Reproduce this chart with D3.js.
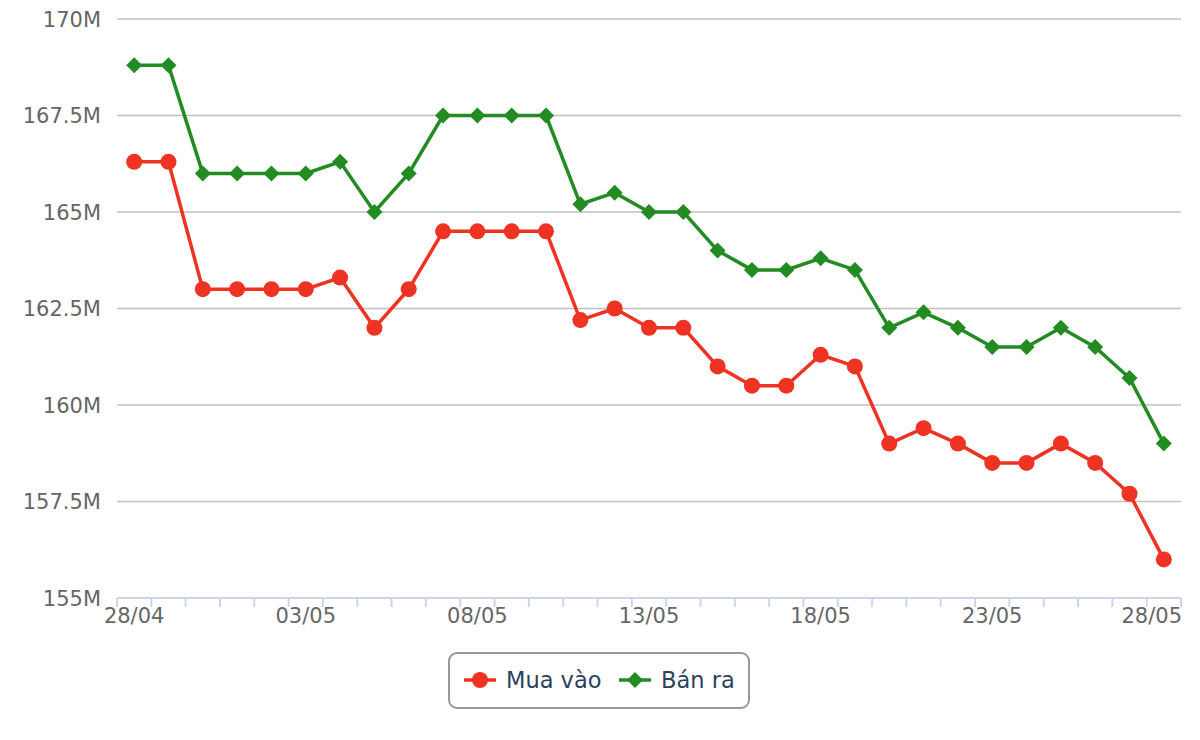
<!DOCTYPE html>
<html>
<head>
<meta charset="utf-8">
<script src="https://cdn.jsdelivr.net/npm/d3@7"></script>
<style>
  body { margin: 0; background: #fff; }
  svg { font-family: "DejaVu Sans", sans-serif; }
</style>
</head>
<body>
<svg id="chart" width="1200" height="740"></svg>
<script>
// dates on x axis
let dates = ["28/04","29/04","30/04","01/05","02/05","03/05","04/05","05/05","06/05","07/05",
  "08/05","09/05","10/05","11/05","12/05","13/05","14/05","15/05","16/05","17/05",
  "18/05","19/05","20/05","21/05","22/05","23/05","24/05","25/05","26/05","27/05","28/05"];
// buy price (millions)
let muaVao = [166.3,166.3,163.0,163.0,163.0,163.0,163.3,162.0,163.0,164.5,
  164.5,164.5,164.5,162.2,162.5,162.0,162.0,161.0,160.5,160.5,
  161.3,161.0,159.0,159.4,159.0,158.5,158.5,159.0,158.5,157.7,156.0];
// sell price (millions)
let banRa = [168.8,168.8,166.0,166.0,166.0,166.0,166.3,165.0,166.0,167.5,
  167.5,167.5,167.5,165.2,165.5,165.0,165.0,164.0,163.5,163.5,
  163.8,163.5,162.0,162.4,162.0,161.5,161.5,162.0,161.5,160.7,159.0];
let yTicks = [155,157.5,160,162.5,165,167.5,170];

let svg = d3.select("#chart");
let plotLeft = 117, plotRight = 1181, plotTop = 19, plotBottom = 598;

let xScale = d3.scaleBand().domain(dates).range([plotLeft, plotRight]);
let yScale = d3.scaleLinear().domain([155, 170]).range([plotBottom, plotTop]);
let cx = d => xScale(d) + xScale.bandwidth() / 2;

// grid lines
svg.append("g")
  .selectAll("line")
  .data(yTicks.slice(1))
  .enter()
  .append("line")
  .attr("x1", plotLeft).attr("x2", plotRight)
  .attr("y1", d => yScale(d)).attr("y2", d => yScale(d))
  .attr("stroke", "#c0c0c0").attr("stroke-width", 1.5);

// y labels
svg.append("g")
  .selectAll("text")
  .data(yTicks)
  .enter()
  .append("text")
  .attr("x", 101)
  .attr("y", d => yScale(d) + 7.5)
  .attr("text-anchor", "end")
  .attr("font-size", 21)
  .attr("fill", "#666")
  .text(d => d + "M");

// x axis line and ticks at band edges
let xAxisG = svg.append("g");
xAxisG.append("line")
  .attr("x1", plotLeft).attr("x2", plotRight)
  .attr("y1", plotBottom).attr("y2", plotBottom)
  .attr("stroke", "#ccd6eb").attr("stroke-width", 2);
let edges = dates.map(d => xScale(d)).concat([plotRight]);
xAxisG.selectAll(".tick")
  .data(edges)
  .enter()
  .append("line")
  .attr("class", "tick")
  .attr("x1", d => d).attr("x2", d => d)
  .attr("y1", plotBottom).attr("y2", plotBottom + 9)
  .attr("stroke", "#ccd6eb").attr("stroke-width", 2);
xAxisG.selectAll("text")
  .data(dates.filter((d, i) => i % 5 == 0))
  .enter()
  .append("text")
  .attr("x", (d, i) => i == 6 ? plotRight + 1 : cx(d))
  .attr("y", 623)
  .attr("text-anchor", (d, i) => i == 6 ? "end" : "middle")
  .attr("font-size", 21)
  .attr("fill", "#666")
  .text(d => d);

let line = d3.line()
  .x((d, i) => cx(dates[i]))
  .y(d => yScale(d));

let red = "#ee3322", green = "#228b22";

// green series
svg.append("path")
  .datum(banRa)
  .attr("d", line)
  .attr("fill", "none")
  .attr("stroke", green)
  .attr("stroke-width", 3.5);
svg.append("g")
  .selectAll("path")
  .data(banRa)
  .enter()
  .append("path")
  .attr("d", d3.symbol().type(d3.symbolSquare).size(128))
  .attr("transform", (d, i) => "translate(" + cx(dates[i]) + "," + yScale(d) + ") rotate(45)")
  .attr("fill", green);

// red series
svg.append("path")
  .datum(muaVao)
  .attr("d", line)
  .attr("fill", "none")
  .attr("stroke", red)
  .attr("stroke-width", 3.5);
svg.append("g")
  .selectAll("circle")
  .data(muaVao)
  .enter()
  .append("circle")
  .attr("cx", (d, i) => cx(dates[i]))
  .attr("cy", d => yScale(d))
  .attr("r", 8)
  .attr("fill", red);

// legend
let lg = svg.append("g");
lg.append("rect")
  .attr("x", 449).attr("y", 653)
  .attr("width", 300).attr("height", 55)
  .attr("rx", 8)
  .attr("fill", "#fff")
  .attr("stroke", "#999").attr("stroke-width", 2);
lg.append("line").attr("x1", 464).attr("x2", 496).attr("y1", 680).attr("y2", 680)
  .attr("stroke", red).attr("stroke-width", 3.5);
lg.append("circle").attr("cx", 480).attr("cy", 680).attr("r", 8).attr("fill", red);
lg.append("text").attr("x", 506).attr("y", 688).attr("font-size", 22.5).attr("fill", "#2b4260").text("Mua vào");
lg.append("line").attr("x1", 619).attr("x2", 651).attr("y1", 680).attr("y2", 680)
  .attr("stroke", green).attr("stroke-width", 3.5);
lg.append("path")
  .attr("d", d3.symbol().type(d3.symbolSquare).size(128))
  .attr("transform", "translate(635,680) rotate(45)")
  .attr("fill", green);
lg.append("text").attr("x", 661).attr("y", 688).attr("font-size", 22.5).attr("fill", "#2b4260").text("Bán ra");
</script>
</body>
</html>
